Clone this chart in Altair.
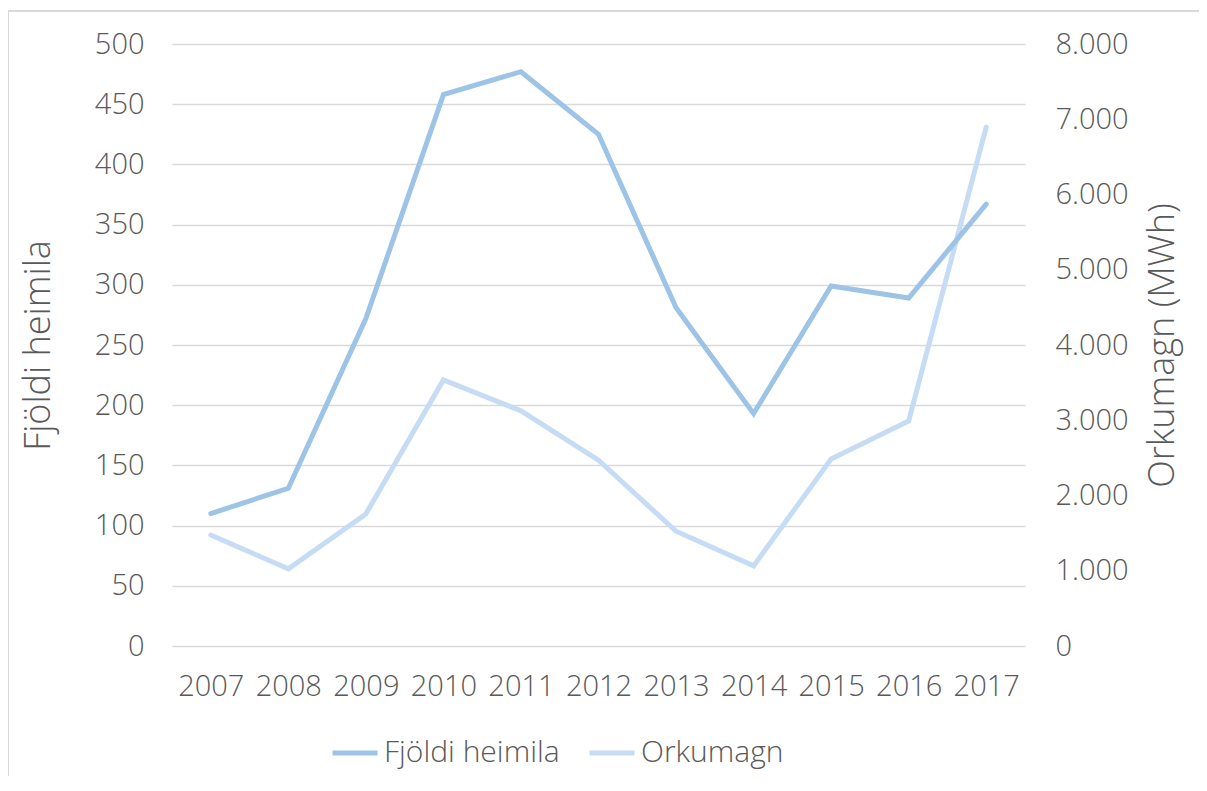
import altair as alt
import pandas as pd

years = ["2007", "2008", "2009", "2010", "2011", "2012", "2013", "2014", "2015", "2016", "2017"]
fjoldi = [110, 131, 272, 458, 477, 425, 281, 193, 299, 289, 367]
orka = [1475, 1025, 1755, 3535, 3125, 2470, 1525, 1065, 2485, 2990, 6895]

series_names = ["Fjöldi heimila", "Orkumagn"]
series_colors = ["#9dc3e6", "#c5dcf4"]

rows = []
for y, a, b in zip(years, fjoldi, orka):
    rows.append({"year": y, "series": series_names[0], "value": a})
    rows.append({"year": y, "series": series_names[1], "value": b})
df = pd.DataFrame(rows)

FONT = "Open Sans"
LBL = "#595959"

color = alt.Color(
    "series:N",
    scale=alt.Scale(domain=series_names, range=series_colors),
    legend=alt.Legend(
        title=None, orient="none", direction="horizontal",
        legendX=158, legendY=684,
        symbolType="stroke", symbolSize=2025, symbolStrokeWidth=5,
        labelFontSize=30, labelColor=LBL, labelFont=FONT, labelFontWeight=300,
        labelOffset=4, columnPadding=19, symbolOpacity=1, labelLimit=400,
    ),
)

xenc = alt.X(
    "year:O", title=None,
    scale=alt.Scale(domain=years, padding=0.5),
    axis=alt.Axis(labelAngle=0, ticks=False, domain=False, grid=False,
                  labelFontSize=29, labelColor=LBL, labelFont=FONT, labelFontWeight=300,
                  labelPadding=26),
)

base = alt.Chart(df)

left = base.transform_filter(alt.datum.series == series_names[0]).mark_line(
    strokeWidth=5, strokeCap="round", strokeJoin="miter"
).encode(
    x=xenc,
    y=alt.Y("value:Q", title="Fjöldi heimila",
            scale=alt.Scale(domain=[0, 500], nice=False, zero=True),
            axis=alt.Axis(orient="left", values=list(range(0, 501, 50)), ticks=False, domain=False,
                          grid=True, gridColor="#d9d9d9", gridWidth=1.5,
                          labelFontSize=29, labelColor=LBL, labelFont=FONT, labelFontWeight=300,
                          labelPadding=28,
                          titleFontSize=36, titleColor=LBL, titleFont=FONT, titleFontWeight=300,
                          titleAngle=270, titleX=-134, titleBaseline="middle")),
    color=color,
)

right = base.transform_filter(alt.datum.series == series_names[1]).mark_line(
    strokeWidth=5, strokeCap="round", strokeJoin="miter"
).encode(
    x=xenc,
    y=alt.Y("value:Q", title="Orkumagn (MWh)",
            scale=alt.Scale(domain=[0, 8000], nice=False, zero=True),
            axis=alt.Axis(orient="right", values=list(range(0, 8001, 1000)), ticks=False, domain=False,
                          grid=False,
                          labelExpr="replace(format(datum.value, ','), ',', '.')",
                          labelFontSize=29, labelColor=LBL, labelFont=FONT, labelFontWeight=300,
                          labelPadding=30,
                          titleFontSize=36, titleColor=LBL, titleFont=FONT, titleFontWeight=300,
                          titleAngle=270, titleX=137, titleBaseline="middle")),
    color=color,
)

# chart frame (decoration only)
frame_left = alt.Chart(df).mark_rule(color="#d9d9d9", strokeWidth=2).encode(
    x=alt.value(-164), y=alt.value(-33), y2=alt.value(760))
frame_top = alt.Chart(df).mark_rule(color="#d9d9d9", strokeWidth=2).encode(
    x=alt.value(-164), x2=alt.value(1040), y=alt.value(-33))

chart = alt.layer(frame_left, frame_top, right, left).resolve_scale(y="independent").properties(
    width=853, height=602,
    autosize=alt.AutoSizeParams(type="none"),
    padding={"left": 164, "top": 36, "right": 174, "bottom": 130},
).configure_view(stroke=None)

chart.save("out.html", embed_options={"renderer": "svg", "actions": False})
